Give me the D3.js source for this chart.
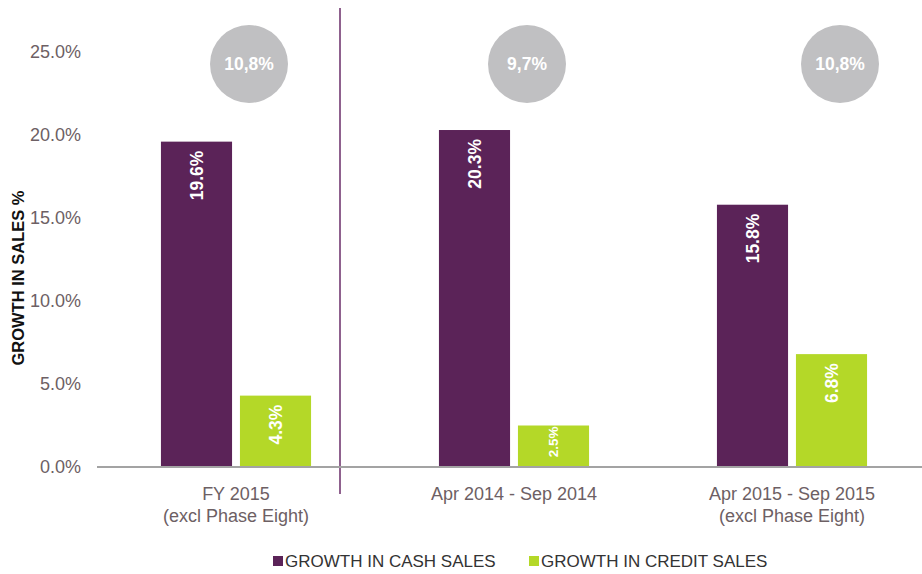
<!DOCTYPE html>
<html>
<head>
<meta charset="utf-8">
<script src="https://cdn.jsdelivr.net/npm/d3@7"></script>
<style>
	body { margin: 0; background: #fff; }
	svg { display: block; font-family: "Liberation Sans", Arial, sans-serif; }
</style>
</head>
<body>
<svg id="barchart"></svg>
<script>
// data
let categories = ["FY 2015", "Apr 2014 - Sep 2014", "Apr 2015 - Sep 2015"];
let categoryNotes = ["(excl Phase Eight)", "", "(excl Phase Eight)"];
let seriesNames = ["GROWTH IN CASH SALES", "GROWTH IN CREDIT SALES"];
let cashGrowth = [19.6, 20.3, 15.8];
let creditGrowth = [4.3, 2.5, 6.8];
let totalGrowth = [10.8, 9.7, 10.8];
let yTicks = [0, 5, 10, 15, 20, 25];

function makeChart() {
	let w = 922;
	let h = 574;
	let marginL = 97;
	let marginT = 52;
	let marginB = 107;

	let purple = '#5b2358';
	let green = '#b4d828';
	let colors = [purple, green];

	let dataset = categories.map((c, i) => ({
		cat: c,
		values: [cashGrowth[i], creditGrowth[i]]
	}));

	let chart = d3.select('#barchart')
		.attr('width', w)
		.attr('height', h);

	let x0 = d3.scaleBand()
		.domain(categories)
		.range([marginL, 931])
		.paddingInner(0.46)
		.paddingOuter(0.23);

	let x1 = d3.scaleBand()
		.domain(seriesNames)
		.range([0, x0.bandwidth()])
		.paddingInner(0.1);

	let yScale = d3.scaleLinear()
		.domain([0, 25])
		.range([h - marginB, marginT]);

	// y axis labels
	let yAxis = d3.axisLeft(yScale)
		.tickValues(yTicks)
		.tickSize(0)
		.tickPadding(16)
		.tickFormat(d => d3.format('.1f')(d) + '%');

	let yG = chart.append('g')
		.attr('transform', `translate(${marginL}, 0)`)
		.call(yAxis);
	yG.select('.domain').remove();
	yG.selectAll('text')
		.style('font-size', '18px')
		.style('font-family', '"Liberation Sans", Arial, sans-serif')
		.attr('fill', '#6d6064');

	// divider
	chart.append('line')
		.attr('x1', 340).attr('x2', 340)
		.attr('y1', 8).attr('y2', 494)
		.attr('stroke', '#6a2c68')
		.attr('stroke-width', 1.5);

	// bars
	let groups = chart.selectAll('.group')
		.data(dataset)
		.enter()
		.append('g')
		.attr('class', 'group')
		.attr('transform', d => `translate(${x0(d.cat)}, 0)`);

	let bars = groups.selectAll('.bar')
		.data(d => d.values.map((v, j) => ({ series: seriesNames[j], v: v, j: j })))
		.enter();

	bars.append('rect')
		.attr('class', 'bar')
		.attr('x', d => x1(d.series))
		.attr('y', d => yScale(d.v))
		.attr('width', x1.bandwidth())
		.attr('height', d => yScale(0) - yScale(d.v))
		.style('fill', d => colors[d.j]);

	// value labels, rotated inside the top of each bar
	bars.append('text')
		.attr('transform', d => {
			let bh = yScale(0) - yScale(d.v);
			let cx = x1(d.series) + x1.bandwidth() / 2;
			let ty = yScale(d.v) + (bh > 55 ? 9 : 1);
			return `translate(${cx}, ${ty}) rotate(-90)`;
		})
		.attr('dy', '0.36em')
		.style('text-anchor', 'end')
		.style('font-weight', 'bold')
		.style('font-size', d => (yScale(0) - yScale(d.v) > 55 ? 17.5 : 13.5) + 'px')
		.attr('fill', '#fff')
		.text(d => d3.format('.1f')(d.v) + '%');

	// total growth bubbles
	let bubbleShift = [13, 13, 48];
	let bubbles = chart.selectAll('.bubble')
		.data(totalGrowth)
		.enter()
		.append('g')
		.attr('class', 'bubble')
		.attr('transform', (d, i) => `translate(${x0(categories[i]) + x0.bandwidth() / 2 + bubbleShift[i]}, 64)`);

	bubbles.append('circle')
		.attr('r', 39)
		.style('fill', '#c0c0c2');

	bubbles.append('text')
		.attr('dy', '0.36em')
		.style('text-anchor', 'middle')
		.style('font-weight', 'bold')
		.style('font-size', '17.5px')
		.attr('fill', '#fff')
		.text(d => d3.format('.1f')(d).replace('.', ',') + '%');

	// baseline
	chart.append('line')
		.attr('x1', marginL).attr('x2', w)
		.attr('y1', yScale(0)).attr('y2', yScale(0))
		.attr('stroke', '#a3a3a3')
		.attr('stroke-width', 2);

	// category labels
	let catLabels = chart.selectAll('.catlabel')
		.data(categories)
		.enter()
		.append('text')
		.attr('class', 'catlabel')
		.attr('x', d => x0(d) + x0.bandwidth() / 2)
		.attr('y', 500)
		.style('text-anchor', 'middle')
		.style('font-size', '18px')
		.attr('fill', '#6d6064');

	catLabels.append('tspan')
		.attr('x', d => x0(d) + x0.bandwidth() / 2)
		.text(d => d);
	catLabels.append('tspan')
		.attr('x', d => x0(d) + x0.bandwidth() / 2)
		.attr('dy', 22)
		.text((d, i) => categoryNotes[i]);

	// y axis title
	chart.append('text')
		.attr('transform', 'rotate(-90)')
		.attr('x', -278)
		.attr('y', 24)
		.style('text-anchor', 'middle')
		.style('font-weight', 'bold')
		.style('font-size', '16.5px')
		.attr('fill', '#111')
		.text('GROWTH IN SALES %');

	// legend
	let legendX = [273, 529];
	let legend = chart.selectAll('.legend')
		.data(seriesNames)
		.enter()
		.append('g')
		.attr('class', 'legend')
		.attr('transform', (d, i) => `translate(${legendX[i]}, 556)`);

	legend.append('rect')
		.attr('width', 10)
		.attr('height', 10)
		.style('fill', (d, i) => colors[i]);

	legend.append('text')
		.attr('x', 12)
		.attr('y', 11)
		.style('font-size', '17px')
		.attr('fill', '#333')
		.text(d => d);
}

window.onload = function () {
	makeChart();
}
</script>
</body>
</html>
